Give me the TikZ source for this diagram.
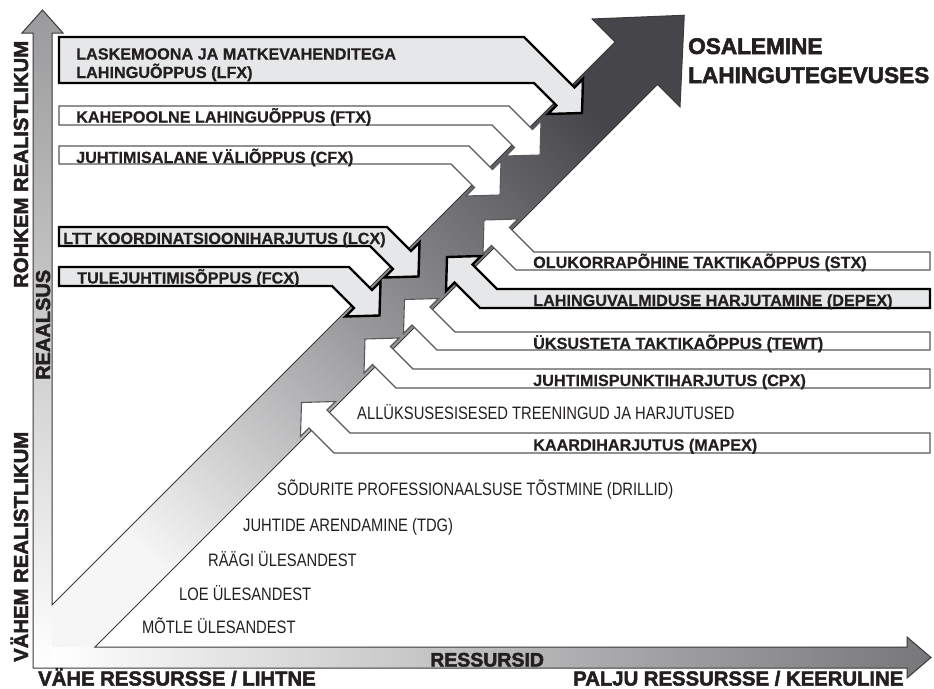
\documentclass[tikz,border=0pt]{standalone}
\usepackage{fontspec}
\usepackage{graphicx}
\setmainfont{Liberation Sans}
\newfontfamily\heavyfont[FakeBold=2.4]{Liberation Sans Bold}
\newfontfamily\lblfont[FakeBold=0.5]{Liberation Sans Bold}
\definecolor{lgray}{HTML}{E6E7E8}
\definecolor{dgray}{HTML}{58595B}
\definecolor{txt}{HTML}{231F20}
\definecolor{axline}{HTML}{3A3A3A}
\definecolor{axtop}{HTML}{9A9A9C}
\definecolor{axright}{HTML}{77777A}
\definecolor{bandtop}{HTML}{46464A}
\definecolor{bandmid}{HTML}{98989B}
\definecolor{bandbot}{HTML}{F6F6F6}
\newcommand{\narrowtext}[1]{\scalebox{0.82}[1]{\fontsize{18}{21}\selectfont #1}}
% left arrow: style, c, yt, yb
\newcommand{\larrowshape}[4]{%
\path[#1] (59,#3) -- ({#3+(#2)+18},#3) -- ({(680+(#2))/2},{(644-(#2))/2}) -- ({(697+(#2))/2},{(627-(#2))/2}) -- ({(695+(#2))/2},{(695-(#2))/2}) -- ({(627+(#2))/2},{(697-(#2))/2}) -- ({(644+(#2))/2},{(680-(#2))/2}) -- ({#4+(#2)-18},#4) -- (59,#4) -- cycle;}
% right arrow: style, c, yt, yb
\newcommand{\rarrowshape}[4]{%
\path[#1] (930,#3) -- ({#3+(#2)+18},#3) -- ({(755+(#2))/2},{(719-(#2))/2}) -- ({(772+(#2))/2},{(702-(#2))/2}) -- ({(704+(#2))/2},{(704-(#2))/2}) -- ({(702+(#2))/2},{(772-(#2))/2}) -- ({(719+(#2))/2},{(755-(#2))/2}) -- ({#4+(#2)-18},#4) -- (930,#4) -- cycle;}
\tikzset{
  thickarr/.style={fill=lgray, draw=black, line width=2.4pt, line join=miter},
  thinarr/.style={fill=white, draw=dgray, line width=1.1pt, line join=miter},
  lbl/.style={font=\lblfont\fontsize{16.2}{19}\selectfont, anchor=base west, inner sep=0pt, text=txt},
  nar/.style={anchor=base west, inner sep=0pt, text=txt},
  heavy/.style={font=\heavyfont\fontsize{20.3}{24}\selectfont, anchor=base west, inner sep=0pt, text=txt},
  axisline/.style={draw=axline, line width=1pt, line join=miter}
}
\begin{document}
\begin{tikzpicture}[x=1pt,y=-1pt]
\useasboundingbox[fill=white] (0,0) rectangle (934,688);
% axes fills
\shade[top color=axtop, bottom color=white] (33,668) -- (33,33) -- (22,33) -- (42.5,10) -- (63,33) -- (52,33) -- (52,668) -- cycle;
\shade[left color=white, right color=axright] (52,647) -- (907,647) -- (907,637) -- (931,657.5) -- (907,678) -- (907,668) -- (52,668) -- cycle;
% big band
\shade[top color=bandtop, bottom color=bandbot, middle color=bandmid, shading angle=-45] (52,605) -- (615,42) -- (592,19) -- (684.25,15.25) -- (680,107) -- (657.5,84.5) -- (95,647) -- (52,647) -- cycle;
% outline of whole shape
\draw[axisline] (33,668) -- (33,33) -- (22,33) -- (42.5,10) -- (63,33) -- (52,33) -- (52,605) -- (615,42) -- (592,19) -- (684.25,15.25) -- (680,107) -- (657.5,84.5) -- (95,647) -- (907,647) -- (907,637) -- (931,657.5) -- (907,678) -- (907,668) -- cycle;
% left arrows
\larrowshape{thickarr}{469}{37}{83}
\larrowshape{thinarr}{385}{106}{125}
\larrowshape{thinarr}{305}{146}{164}
\larrowshape{thickarr}{142}{227}{246}
\larrowshape{thickarr}{64}{267}{286}
% right arrows
\rarrowshape{thinarr}{264}{252}{270}
\rarrowshape{thickarr}{190}{289}{308}
\rarrowshape{thinarr}{105}{332}{350}
\rarrowshape{thinarr}{26}{369}{388}
\rarrowshape{thinarr}{-101}{433}{453}
% box labels
\node[lbl] (lfxa) at (76,59.5) {LASKEMOONA JA MATKEVAHENDITEGA};
\node[lbl] (lfxb) at (76,78) {LAHINGUÕPPUS (LFX)};
\node[lbl] (ftx) at (76,122.5) {KAHEPOOLNE LAHINGUÕPPUS (FTX)};
\node[lbl] (cfx) at (76,163) {JUHTIMISALANE VÄLIÕPPUS (CFX)};
\node[lbl] (lcx) at (63,244) {LTT KOORDINATSIOONIHARJUTUS (LCX)};
\node[lbl] (fcx) at (77,283.5) {TULEJUHTIMISÕPPUS (FCX)};
\node[lbl] (stx) at (533,268) {OLUKORRAPÕHINE TAKTIKAÕPPUS (STX)};
\node[lbl] (depex) at (533,306) {LAHINGUVALMIDUSE HARJUTAMINE (DEPEX)};
\node[lbl] (tewt) at (533,349) {ÜKSUSTETA TAKTIKAÕPPUS (TEWT)};
\node[lbl] (cpx) at (533,386) {JUHTIMISPUNKTIHARJUTUS (CPX)};
\node[lbl] (mapex) at (533,450.5) {KAARDIHARJUTUS (MAPEX)};
% plain labels
\node[nar] (allyk) at (357,419) {\narrowtext{ALLÜKSUSESISESED TREENINGUD JA HARJUTUSED}};
\node[nar] (sodur) at (277,495) {\narrowtext{SÕDURITE PROFESSIONAALSUSE TÕSTMINE (DRILLID)}};
\node[nar] (juht) at (243,531.5) {\narrowtext{JUHTIDE ARENDAMINE (TDG)}};
\node[nar] (raagi) at (208,566) {\narrowtext{RÄÄGI ÜLESANDEST}};
\node[nar] (loe) at (179,600) {\narrowtext{LOE ÜLESANDEST}};
\node[nar] (motle) at (142,633) {\narrowtext{MÕTLE ÜLESANDEST}};
% heavy labels
\node[heavy, font=\heavyfont\fontsize{22.6}{26}\selectfont] (osal) at (688,54) {OSALEMINE};
\node[heavy, font=\heavyfont\fontsize{22.6}{26}\selectfont] (lahing) at (688,83) {LAHINGUTEGEVUSES};
\node[heavy, rotate=90] (rohkem) at (28,288) {ROHKEM REALISTLIKUM};
\node[heavy, rotate=90] (vahem) at (28,662) {VÄHEM REALISTLIKUM};
\node[heavy, rotate=90, font=\heavyfont\fontsize{20}{24}\selectfont] (reaal) at (50,380) {REAALSUS};
\node[heavy, font=\heavyfont\fontsize{19.5}{24}\selectfont] (ress) at (430,666.5) {RESSURSID};
\node[heavy] (vahe) at (38,685.5) {VÄHE RESSURSSE / LIHTNE};
\node[heavy] (palju) at (573,685.5) {PALJU RESSURSSE / KEERULINE};
\end{tikzpicture}
\end{document}
